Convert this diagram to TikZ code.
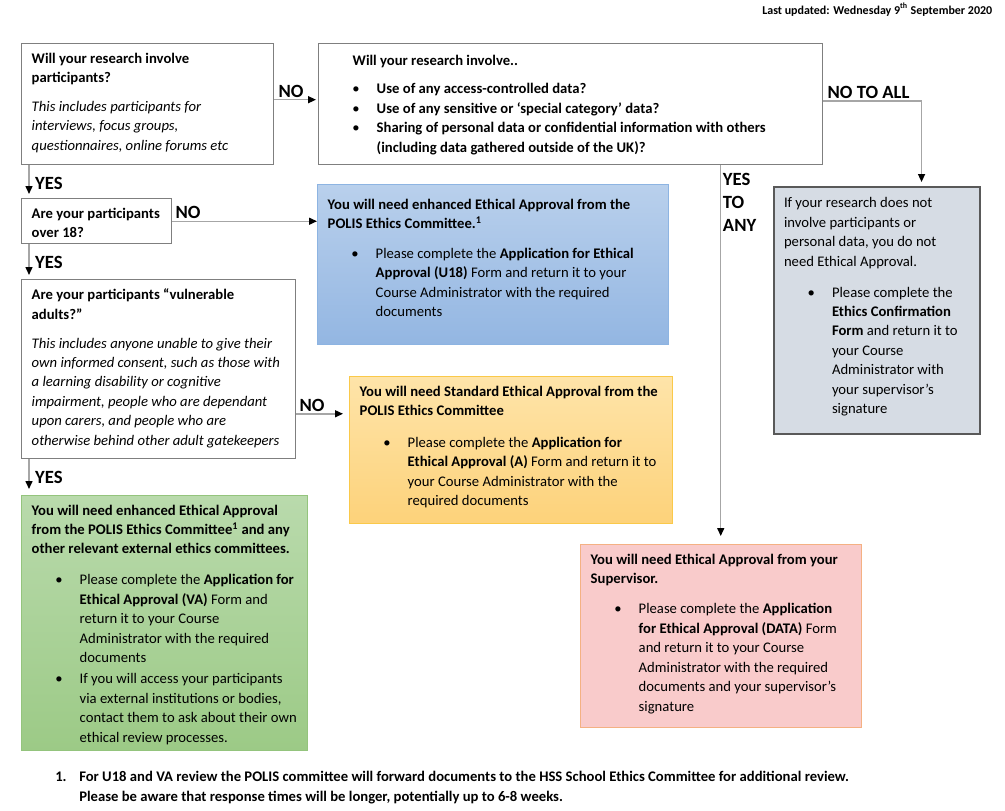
\documentclass[tikz,border=0pt]{standalone}
\usepackage{fontspec}
\setmainfont{Carlito}
\usetikzlibrary{arrows.meta,positioning}

\newdimen\px \px=0.75pt
\definecolor{qline}{HTML}{7F7F7F}
\definecolor{arrgray}{HTML}{A6A6A6}
\definecolor{blueTop}{HTML}{B9D0EC}
\definecolor{blueBot}{HTML}{93B6E2}
\definecolor{blueLine}{HTML}{8DB4E2}
\definecolor{orTop}{HTML}{FEE4A9}
\definecolor{orBot}{HTML}{FDD27A}
\definecolor{orLine}{HTML}{FAC94A}
\definecolor{grTop}{HTML}{B9DAAC}
\definecolor{grBot}{HTML}{9CCA86}
\definecolor{grLine}{HTML}{94C47D}
\definecolor{grayFill}{HTML}{D6DCE4}
\definecolor{grayLine}{HTML}{595959}
\definecolor{redFill}{HTML}{F9CBCB}
\definecolor{redLine}{HTML}{F4B183}

\newcommand{\boxtext}[3]{\parbox[t][#2][t]{#1}{\raggedright #3}}
\newcommand{\bpoint}[1]{\par{\leftskip=48\px\noindent\hbox to 0pt{\hss\textbullet\hskip 17\px}#1\par}}
\newcommand{\pgap}[1]{\par\vspace{#1\px}}

\begin{document}
\begin{tikzpicture}[
  x=0.75pt, y=-0.75pt,
  every node/.style={font=\fontsize{11}{14.6}\selectfont},
  box/.style={anchor=north west, inner xsep=7.5pt, inner ysep=6.75pt},
  qbox/.style={box, draw=qline, line width=1.1pt, fill=white},
  u18box/.style={box, draw=blueLine, line width=1.1pt, top color=blueTop, bottom color=blueBot},
  abox/.style={box, draw=orLine, line width=1.1pt, top color=orTop, bottom color=orBot},
  vabox/.style={box, draw=grLine, line width=1.1pt, top color=grTop, bottom color=grBot},
  nobox/.style={box, draw=grayLine, line width=1.5pt, fill=grayFill},
  supbox/.style={box, draw=redLine, line width=1.1pt, fill=redFill},
  arr/.style={draw=arrgray, line width=1.1pt, -{Triangle[length=6pt, width=5.25pt, color=black]}},
  lab/.style={font=\fontsize{14}{17}\selectfont\bfseries, inner sep=1.1pt}
]
\useasboundingbox (0,0) rectangle (1005,810);

\node[anchor=base east, font=\fontsize{9}{11}\selectfont\bfseries] (upd) at (997,14)
  {Last updated: Wednesday 9\textsuperscript{th} September 2020};

% Questions
\node[qbox] (partic) at (21,43) {\boxtext{232\px}{103\px}{%
  \textbf{Will your research involve\\participants?}\pgap{9.5}
  \textit{This includes participants for\\interviews, focus groups,\\questionnaires, online forums etc}}};

\node[qbox] (dataq) at (318,43) {\boxtext{484\px}{103\px}{%
  \vspace*{2\px}\hspace*{24\px}\textbf{Will your research involve..}\pgap{9.5}
  \bpoint{\textbf{Use of any access-controlled data?}}
  \bpoint{\textbf{Use of any sensitive or ‘special category’ data?}}
  \bpoint{\textbf{Sharing of personal data or confidential information with others\\(including data gathered outside of the UK)?}}}};

\node[qbox] (over18) at (21,198) {\boxtext{130\px}{27\px}{%
  \textbf{Are your participants\\over 18?}}};

\node[qbox] (vuln) at (21,279) {\boxtext{254\px}{161\px}{%
  \textbf{Are your participants “vulnerable\\adults?”}\pgap{9.5}
  \textit{This includes anyone unable to give their\\own informed consent, such as those with\\a learning disability or cognitive\\impairment, people who are dependant\\upon carers, and people who are\\otherwise behind other adult gatekeepers}}};

% Outcomes
\node[u18box] (u18) at (317,184) {\boxtext{331\px}{142\px}{%
  \vspace*{5\px}\textbf{You will need enhanced Ethical Approval from the\\POLIS Ethics Committee.\textsuperscript{1}}\pgap{10.5}
  \bpoint{Please complete the \textbf{Application for Ethical\\Approval (U18)} Form and return it to your\\Course Administrator with the required\\documents}}};

\node[abox] (stdA) at (349,376) {\boxtext{303\px}{129\px}{%
  \textbf{You will need Standard Ethical Approval from the\\POLIS Ethics Committee}\pgap{12.5}
  \bpoint{Please complete the \textbf{Application for\\Ethical Approval (A)} Form and return it to\\your Course Administrator with the\\required documents}}};

\node[vabox] (vaBox) at (21,495) {\boxtext{266\px}{237\px}{%
  \textbf{You will need enhanced Ethical Approval\\from the POLIS Ethics Committee\textsuperscript{1} and any\\other relevant external ethics committees.}\pgap{11.5}
  \bpoint{Please complete the \textbf{Application for\\Ethical Approval (VA)} Form and\\return it to your Course\\Administrator with the required\\documents}\pgap{1.5}
  \bpoint{If you will access your participants\\via external institutions or bodies,\\contact them to ask about their own\\ethical review processes.}}};

\node[nobox] (noneed) at (773,186) {\boxtext{186\px}{229\px}{%
  \vspace*{1.5\px}If your research does not\\involve participants or\\personal data, you do not\\need Ethical Approval.\pgap{11.5}
  \bpoint{Please complete the\\\textbf{Ethics Confirmation\\Form} and return it to\\your Course\\Administrator with\\your supervisor’s\\signature}}};

\node[supbox] (supv) at (580,544) {\boxtext{261\px}{165\px}{%
  \textbf{You will need Ethical Approval from your\\Supervisor.}\pgap{11}
  \bpoint{Please complete the \textbf{Application\\for Ethical Approval (DATA)} Form\\and return it to your Course\\Administrator with the required\\documents and your supervisor’s\\signature}}};

% Arrows
\draw[arr, shorten >=1.5pt] ([yshift=3.4pt]partic.east) -- ([yshift=3.4pt]partic.east -| dataq.west)
  node[lab, pos=0, anchor=south west, xshift=1.5pt]{NO};
\draw[arr] (over18.east) -- (over18.east -| u18.west)
  node[lab, pos=0, anchor=south west, xshift=0.75pt]{NO};
\draw[arr, shorten >=4.5pt] ([yshift=-33.4pt]vuln.east) -- ([yshift=-33.4pt]vuln.east -| stdA.west)
  node[lab, pos=0, anchor=south west, xshift=0.75pt]{NO};

\draw[arr, shorten >=3pt] ([xshift=6pt]partic.south west) -- ([xshift=6pt]over18.north west)
  node[lab, pos=0.55, anchor=west, xshift=3pt]{YES};
\draw[arr, shorten >=3pt] ([xshift=6pt]over18.south west) -- ([xshift=6pt]vuln.north west)
  node[lab, pos=0.52, anchor=west, xshift=3pt]{YES};
\draw[arr, shorten >=4.5pt] ([xshift=6pt]vuln.south west) -- ([xshift=6pt]vaBox.north west)
  node[lab, pos=0.5, anchor=west, xshift=3pt]{YES};

\draw[arr, shorten >=3pt] ([yshift=2.6pt]dataq.east) -| ([xshift=33.4pt]noneed.north)
  node[lab, pos=0, anchor=south west, xshift=1.5pt]{NO TO ALL};
\draw[arr, shorten >=6pt] ([xshift=112.5pt]dataq.south) -- ([xshift=112.5pt]dataq.south |- supv.north)
  node[lab, pos=0, anchor=north west, align=left, yshift=-4.5pt]{YES\\TO\\ANY};

% Footnote
\node[anchor=north west, inner sep=0, align=left, font=\fontsize{11}{15}\selectfont\bfseries] (fnote) at (55,771)
  {\makebox[24\px][l]{1.}For U18 and VA review the POLIS committee will forward documents to the HSS School Ethics Committee for additional review.\\
   \hspace*{24\px}Please be aware that response times will be longer, potentially up to 6-8 weeks.};
\end{tikzpicture}
\end{document}
